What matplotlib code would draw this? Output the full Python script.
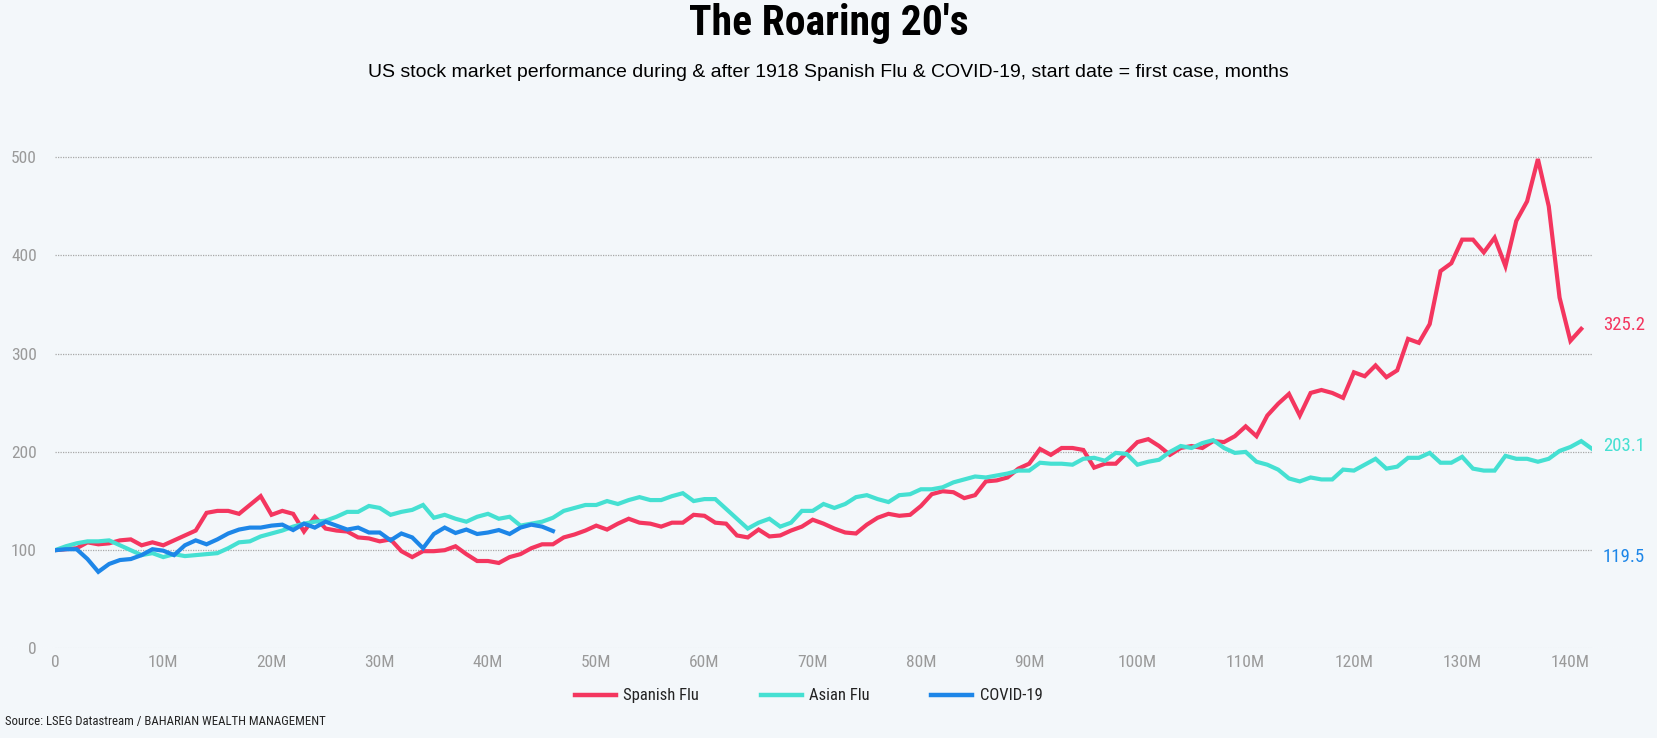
import os

import matplotlib
matplotlib.use("Agg")
import matplotlib.pyplot as plt
import matplotlib.font_manager as fm

# monthly index values, start = 100
spanish_flu = [100, 101, 102, 108, 106, 107, 110, 111, 105, 108,
               105, 110, 115, 120, 138, 140, 140, 137, 146, 155,
               136, 140, 137, 119, 134, 122, 120, 119, 113, 112,
               109, 111, 99, 93, 99, 99, 100, 104, 96, 89,
               89, 87, 93, 96, 102, 106, 106, 113, 116, 120,
               125, 121, 127, 132, 128, 127, 124, 128, 128, 136,
               135, 128, 127, 115, 113, 121, 114, 115, 120, 124,
               131, 127, 122, 118, 117, 126, 133, 137, 135, 136,
               145, 157, 160, 159, 153, 156, 170, 171, 174, 183,
               188, 203, 197, 204, 204, 202, 184, 188, 188, 199,
               210, 213, 206, 197, 204, 206, 204, 211, 210, 216,
               226, 216, 237, 249, 259, 237, 260, 263, 260, 255,
               281, 277, 288, 276, 283, 315, 311, 330, 384, 392,
               416, 416, 403, 418, 389, 435, 455, 498, 450, 357,
               313, 325.2]
asian_flu = [100, 104, 107, 109, 109, 110, 105, 100, 95, 97,
             93, 96, 94, 95, 96, 97, 102, 108, 109, 114,
             117, 120, 124, 127, 129, 130, 134, 139, 139, 145,
             143, 136, 139, 141, 146, 133, 136, 132, 129, 134,
             137, 132, 134, 125, 127, 129, 133, 140, 143, 146,
             146, 150, 147, 151, 154, 151, 151, 155, 158, 150,
             152, 152, 142, 132, 122, 128, 132, 124, 128, 140,
             140, 147, 143, 147, 154, 156, 152, 149, 156, 157,
             162, 162, 164, 169, 172, 175, 174, 176, 178, 181,
             181, 189, 188, 188, 187, 193, 194, 191, 199, 198,
             187, 190, 192, 200, 206, 204, 209, 212, 204, 199,
             200, 190, 187, 182, 173, 170, 174, 172, 172, 182,
             181, 187, 193, 183, 185, 194, 194, 199, 189, 189,
             195, 183, 181, 181, 196, 193, 193, 190, 193, 201,
             205, 211, 203.1]
covid_19 = [100, 101, 101, 91, 78, 86, 90, 91, 95, 101,
            99.5, 95, 105, 110, 106, 111, 117, 121, 123, 123,
            125, 126, 120.5, 127, 123, 129, 125, 121, 123, 118,
            118, 110, 117, 113, 102, 116.5, 123, 117.5, 121, 116.5,
            118, 120.5, 116.5, 123, 126, 124, 119.5]

series_names = ['Spanish Flu', 'Asian Flu', 'COVID-19']
series_colors = ['#F4365F', '#45E0D2', '#1D86E8']
label_offsets = [4, 3, -26]  # px, end label nudges
x_ticks = list(range(0, 141, 10))
x_labels = ['0'] + [f'{t}M' for t in x_ticks[1:]]
y_ticks = [0, 100, 200, 300, 400, 500]


def find_font(candidates):
    files = {}
    for f in fm.fontManager.ttflist:
        key = os.path.splitext(os.path.basename(f.fname))[0].lower()
        key = key.replace('-', '').replace('_', '').replace(' ', '')
        files.setdefault(key, f.fname)
    for c in candidates:
        if c in files:
            return fm.FontProperties(fname=files[c]), True
    return None, False


cond, ok1 = find_font(['notosansextracondensed', 'notosansextracondensedregular',
                       'notosanscondensed', 'notosanscondensedregular',
                       'liberationsansnarrowregular', 'robotocondensedregular',
                       'dejavusanscondensed'])
heavy, ok2 = find_font(['notosansextracondensedblack',
                        'notosansextracondensedextrabold',
                        'notosanscondensedblack', 'notosansextracondensedbold',
                        'liberationsansnarrowbold', 'robotocondensedbold',
                        'dejavusanscondensedbold'])
if not ok1:
    cond = fm.FontProperties(family='DejaVu Sans')
if not ok2:
    heavy = fm.FontProperties(family='DejaVu Sans', weight='bold')
plain = 'Liberation Sans'


def fp(base, size):
    p = base.copy()
    p.set_size(size)
    return p


bg = '#F3F7FA'
fig = plt.figure(figsize=(16.57, 7.38), dpi=100, facecolor=bg)
ax = fig.add_axes([0.0332, 0.1213, 0.9276, 0.6925], facecolor=bg)

all_series = [spanish_flu, asian_flu, covid_19]
for data, name, color, off in zip(all_series, series_names, series_colors,
                                  label_offsets):
    ax.plot(range(len(data)), data, color=color, lw=3, label=name,
            solid_joinstyle='miter')
    ax.annotate(f'{data[-1]:.1f}', xy=(1, data[-1]),
                xycoords=('axes fraction', 'data'),
                xytext=(11, off), textcoords='offset pixels',
                ha='left', va='center', color=color,
                fontproperties=fp(cond, 13.5))

ax.set_xlim(0, 142)
ax.set_ylim(0, 520)
ax.set_xticks(x_ticks)
ax.set_xticklabels(x_labels)
ax.set_yticks(y_ticks)
for lab in ax.get_xticklabels() + ax.get_yticklabels():
    lab.set_fontproperties(fp(cond, 12.5))
    lab.set_color('#9A9A9A')
ax.tick_params(length=0)
ax.tick_params(axis='y', pad=13)
ax.tick_params(axis='x', pad=5)
for s in ax.spines.values():
    s.set_visible(False)
ax.yaxis.grid(True, color='#A8A8A8', linestyle=(0, (1, 1)), lw=0.9)
ax.get_ygridlines()[0].set_color('#DDE3E8')
ax.set_axisbelow(True)

fig.text(0.5, 0.968, "The Roaring 20's", ha='center', va='center',
         fontproperties=fp(heavy, 30), color='black')
fig.text(0.5, 0.902,
         'US stock market performance during & after 1918 Spanish Flu & '
         'COVID-19, start date = first case, months',
         ha='center', va='center', family=plain, fontsize=14.0, color='black')
fig.text(0.003, 0.022, 'Source: LSEG Datastream / BAHARIAN WEALTH MANAGEMENT',
         ha='left', va='center', fontproperties=fp(cond, 9.2),
         color='#222222')

leg = ax.legend(loc='center', bbox_to_anchor=(0.488, 0.057),
                bbox_transform=fig.transFigure, ncol=3, frameon=False,
                handlelength=2.45, handletextpad=0.45, columnspacing=3.7,
                prop=fp(cond, 12))
for t in leg.get_texts():
    t.set_color('#222222')
for h in leg.legend_handles:
    h.set_linewidth(3.2)

fig.savefig('out.png', dpi=100, facecolor=bg)
